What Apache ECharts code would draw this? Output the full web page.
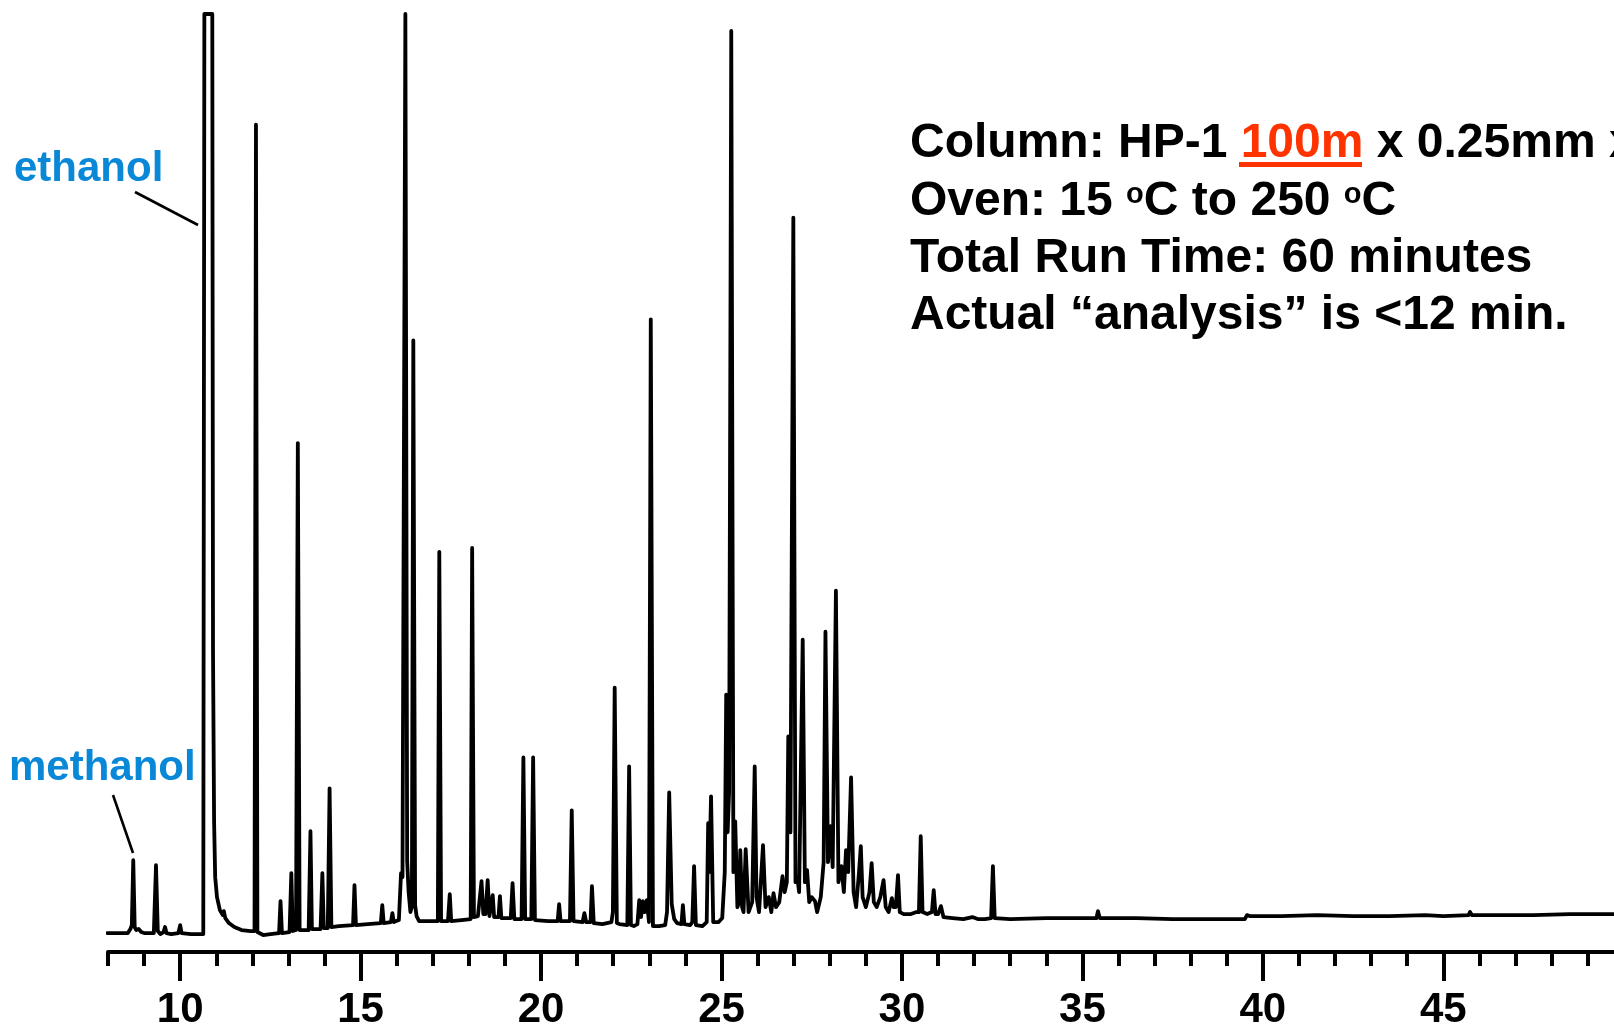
<!DOCTYPE html>
<html>
<head>
<meta charset="utf-8">
<script src="https://cdn.jsdelivr.net/npm/echarts@6/dist/echarts.min.js"></script>
<style>
html,body{margin:0;padding:0;background:#fff;}
#chart{width:1614px;height:1031px;}
</style>
</head>
<body>
<div id="chart"></div>
<script>
// ---- Data (time in minutes, detector response in arbitrary units) ----
const earlyTrace = [
  [7.98,19],[8.55,19],[8.62,23],[8.66,27],[8.70,92],[8.74,25],[8.78,22],[8.85,23],[8.92,20],[9.0,19],
  [9.27,19],[9.33,87],[9.38,21],[9.45,18],[9.54,20],[9.58,25],[9.62,19],[9.75,18],[9.95,19],[10.0,27],
  [10.04,19],[10.3,18],[10.64,18],[10.67,940],[10.89,940],[10.91,300],[10.94,130],[10.97,75],[11.02,55],
  [11.1,42],[11.18,37],[11.21,41],[11.25,34],[11.35,29],[11.5,25],[11.7,22],[11.95,21],[12.06,21],
  [12.1,829],[12.14,20],[12.3,17]
];
const midTrace = [
  [12.5,18],[12.74,19],[12.78,51],[12.82,19],[13.03,20],[13.08,79],[13.12,21],[13.21,22],[13.26,510],
  [13.31,22],[13.56,22],[13.61,121],[13.65,23],[13.89,23],[13.94,79],[13.98,24],[14.09,24],[14.14,164],
  [14.19,25],[14.4,26],[14.79,27],[14.83,67],[14.87,27],[15.2,28],[15.56,29],[15.6,47],[15.64,29],
  [15.84,30],[15.88,39],[15.92,30],[16.06,32],[16.12,79],[16.16,75],[16.24,940],[16.29,91],[16.33,60],
  [16.38,40],[16.42,45],[16.46,613],[16.51,47],[16.55,36],[16.62,31],[17.0,31],[17.14,31],[17.18,401],
  [17.23,31],[17.42,31],[17.47,58],[17.51,31],[17.8,32],[18.05,33],[18.09,405],[18.14,35],[18.25,36],
  [18.35,71],[18.4,38],[18.46,38],[18.52,72],[18.57,36],[18.62,36],[18.66,57],[18.7,35],[18.82,35],
  [18.86,56],[18.9,34],[19.16,34],[19.21,69],[19.26,33],[19.46,33],[19.51,195],[19.56,33],[19.73,33],
  [19.78,195],[19.83,32],[20.2,31],[20.46,31],[20.5,48],[20.54,31],[20.8,31],[20.85,142],[20.9,31],
  [21.15,30],[21.2,39],[21.25,30],[21.37,30],[21.41,66],[21.46,29],[21.7,28],[21.95,30]
];
const lateTrace = [
  [21.99,40],[22.04,265],[22.1,29],[22.17,28],[22.39,27],[22.44,186],[22.49,27],[22.57,26],[22.67,28],
  [22.72,52],[22.77,35],[22.82,51],[22.87,40],[22.93,52],[22.99,30],[23.04,634],[23.1,26],[23.27,26],
  [23.44,27],[23.49,40],[23.55,160],[23.62,48],[23.69,33],[23.77,29],[23.89,28],[23.93,47],[23.97,28],
  [24.13,27],[24.19,30],[24.24,86],[24.29,27],[24.47,26],[24.59,30],[24.63,129],[24.66,80],[24.71,156],
  [24.77,30],[24.92,30],[25.02,34],[25.09,80],[25.13,258],[25.17,120],[25.21,160],[25.27,923],[25.33,80],
  [25.38,131],[25.44,45],[25.49,50],[25.52,102],[25.57,45],[25.61,40],[25.67,103],[25.75,40],[25.85,50],
  [25.92,186],[25.97,55],[26.04,40],[26.15,107],[26.22,45],[26.31,55],[26.38,40],[26.44,59],[26.51,45],
  [26.6,50],[26.69,76],[26.75,60],[26.81,70],[26.85,216],[26.91,120],[26.99,736],[27.05,70],[27.1,75],
  [27.15,60],[27.25,313],[27.31,70],[27.37,82],[27.43,50],[27.5,55],[27.59,51],[27.65,40],[27.75,55],
  [27.83,90],[27.88,321],[27.95,90],[28.02,126],[28.08,85],[28.17,362],[28.24,70],[28.32,86],[28.39,60],
  [28.45,102],[28.51,80],[28.59,175],[28.66,60],[28.73,45],[28.81,80],[28.86,106],[28.91,55],[29.0,45],
  [29.1,60],[29.16,89],[29.22,50],[29.3,45],[29.4,55],[29.49,72],[29.55,45],[29.63,40],[29.72,54],
  [29.77,45],[29.83,45],[29.89,77],[29.94,40],[30.05,38],[30.25,38],[30.4,40],[30.47,40],[30.52,116],
  [30.57,40],[30.7,38],[30.83,40],[30.88,62],[30.93,38],[31.0,38],[31.08,46],[31.15,35]
];
const tailTrace = [
  [31.4,34],[31.7,33],[31.95,35],[32.1,33],[32.3,33],[32.47,34],[32.52,86],[32.57,34],[33.0,33],
  [34.0,34],[35.0,34],[35.39,34],[35.43,41],[35.48,34],[36.5,34],[37.5,33],[38.5,33],[39.5,33],
  [39.56,37],[39.63,36],[40.5,36],[41.5,37],[42.5,36],[43.5,36],[44.5,37],[45.0,36],[45.7,37],
  [45.74,40],[45.79,37],[46.5,37],[47.5,37],[48.5,38],[49.3,38],[49.73,38]
];

const xMin = 8;
const xMax = 49.73;
const yMax = 940;
const minorTickValues = [8,9,10,11,12,13,14,15,16,17,18,19,20,21,22,23,24,25,26,27,28,29,30,31,32,33,34,35,36,37,38,39,40,41,42,43,44,45,46,47,48,49];
const majorTickValues = [10,15,20,25,30,35,40,45];

const peakLabels = ['ethanol', 'methanol'];
const infoLines = [
  ['Column: HP-1 ', '100m', ' x 0.25mm x'],
  ['Oven: 15 ', 'o', 'C to 250 ', 'o', 'C'],
  ['Total Run Time: 60 minutes'],
  ['Actual \u201Canalysis\u201D is <12 min.']
];

// ---- Chart ----
const FONT = "'Liberation Sans', Arial, Helvetica, sans-serif";
const BLUE = '#0A88D8';
const RED = '#FF3300';

const trace = earlyTrace.concat(midTrace, lateTrace, tailTrace);

const infoText =
  '{a|' + infoLines[0][0] + '}{r|' + infoLines[0][1] + '}{a|' + infoLines[0][2] + '}\n' +
  '{a|' + infoLines[1][0] + '}{s|' + infoLines[1][1] + '}{a|' + infoLines[1][2] + '}{s|' + infoLines[1][3] + '}{a|' + infoLines[1][4] + '}\n' +
  '{a|' + infoLines[2][0] + '}\n' +
  '{a|' + infoLines[3][0] + '}';

const chart = echarts.init(document.getElementById('chart'), null, {renderer: 'canvas'});

const option = {
  animation: false,
  backgroundColor: '#ffffff',
  grid: {left: 108, right: 0, top: 14, bottom: 77, containLabel: false},
  xAxis: [
    {
      type: 'value', min: xMin, max: xMax, interval: 1, position: 'bottom',
      axisLine: {show: true, onZero: false, lineStyle: {color: '#000', width: 4}},
      axisTick: {show: true, customValues: minorTickValues, length: 14, lineStyle: {color: '#000', width: 4}},
      axisLabel: {show: true, customValues: majorTickValues, margin: 37, color: '#000',
        fontFamily: FONT, fontWeight: 'bold', fontSize: 42},
      splitLine: {show: false}
    },
    {
      type: 'value', min: xMin, max: xMax, position: 'bottom',
      axisLine: {show: false},
      axisTick: {show: true, customValues: majorTickValues, length: 29, lineStyle: {color: '#000', width: 4}},
      axisLabel: {show: false},
      splitLine: {show: false}
    }
  ],
  yAxis: {type: 'value', min: 0, max: yMax, show: false},
  series: [{
    type: 'line',
    data: trace,
    xAxisIndex: 0,
    showSymbol: false,
    symbol: 'none',
    clip: false,
    silent: true,
    lineStyle: {color: '#000', width: 3.8, join: 'round', cap: 'round'}
  }],
  graphic: [
    {
      type: 'text', x: 14, y: 169,
      style: {text: peakLabels[0], fill: BLUE, font: 'bold 42px ' + FONT,
        align: 'left', verticalAlign: 'middle', textAlign: 'left', textVerticalAlign: 'middle'}
    },
    {
      type: 'text', x: 9, y: 768,
      style: {text: peakLabels[1], fill: BLUE, font: 'bold 42px ' + FONT,
        align: 'left', verticalAlign: 'middle', textAlign: 'left', textVerticalAlign: 'middle'}
    },
    {
      type: 'line', shape: {x1: 135, y1: 192, x2: 198, y2: 225},
      style: {stroke: '#000', lineWidth: 2.6}
    },
    {
      type: 'line', shape: {x1: 113, y1: 795, x2: 133, y2: 853},
      style: {stroke: '#000', lineWidth: 2.6}
    },
    {
      type: 'text', x: 910, y: 115.5,
      style: {
        text: infoText,
        align: 'left', verticalAlign: 'top', textAlign: 'left', textVerticalAlign: 'top',
        lineHeight: 57.3,
        rich: {
          a: {fontFamily: FONT, fontWeight: 'bold', fontSize: 48, fill: '#000', color: '#000', lineHeight: 57.3},
          r: {fontFamily: FONT, fontWeight: 'bold', fontSize: 48, fill: RED, color: RED, lineHeight: 57.3},
          s: {fontFamily: FONT, fontWeight: 'bold', fontSize: 29, fill: '#000', color: '#000',
            verticalAlign: 'top', padding: [8, 0, 0, 0]}
        }
      }
    },
    {
      type: 'rect', shape: {x: 1239, y: 162, width: 123, height: 5},
      style: {fill: RED}
    }
  ]
};

chart.setOption(option);
</script>
</body>
</html>
